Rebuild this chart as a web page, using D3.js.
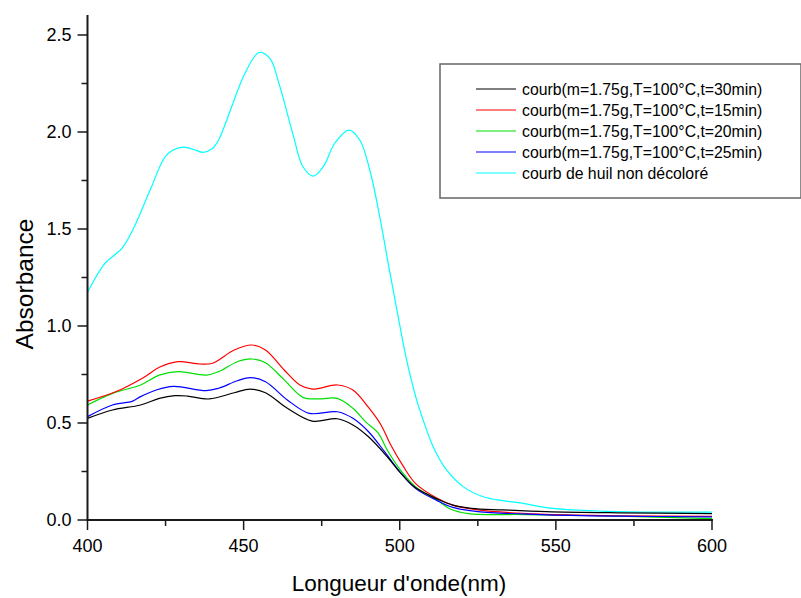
<!DOCTYPE html>
<html><head><meta charset="utf-8">
<script src="https://cdn.jsdelivr.net/npm/d3@7"></script>
<style>body{margin:0;background:#fff}svg{display:block}text{font-family:"Liberation Sans",Arial,sans-serif;fill:#000}</style>
</head><body><svg id="c" width="801" height="598"></svg>
<script>
const seriesNames = [
  "courb(m=1.75g,T=100°C,t=30min)",
  "courb(m=1.75g,T=100°C,t=15min)",
  "courb(m=1.75g,T=100°C,t=20min)",
  "courb(m=1.75g,T=100°C,t=25min)",
  "courb de huil non décoloré"
];
const seriesColors = ["#000000", "#ff0000", "#00e000", "#0000ff", "#00ffff"];
const xTicks = [400, 450, 500, 550, 600];
const yTicks = [0.0, 0.5, 1.0, 1.5, 2.0, 2.5];

// [wavelength, absorbance]
const black30 = [[400,0.524],[408,0.567],[417,0.593],[423,0.627],[428,0.641],[432,0.639],[439,0.624],[447,0.656],[452,0.675],[457,0.656],[464,0.576],[472,0.51],[480,0.522],[485,0.49],[490,0.429],[496,0.326],[500,0.247],[505,0.167],[512,0.108],[517,0.077],[523,0.06],[533,0.052],[547,0.043],[570,0.037],[600,0.033]];
const red15 = [[400,0.613],[409,0.661],[418,0.735],[423,0.787],[429,0.816],[436,0.804],[440,0.808],[447,0.876],[452.6,0.902],[457,0.876],[463,0.773],[468,0.696],[472,0.675],[480,0.696],[485,0.67],[490,0.58],[494,0.49],[497,0.39],[501,0.28],[505,0.189],[512,0.112],[517,0.077],[525,0.052],[545,0.03],[570,0.022],[600,0.019]];
const green20 = [[400,0.593],[408,0.653],[417,0.696],[423,0.747],[429,0.765],[438,0.747],[442,0.765],[448,0.816],[452.6,0.83],[457,0.811],[463,0.722],[469,0.632],[474,0.624],[480,0.627],[485,0.576],[489,0.507],[493,0.45],[496,0.361],[500,0.262],[505,0.172],[512,0.103],[516,0.058],[522,0.033],[540,0.028],[570,0.02],[600,0.007]];
const blue25 = [[400,0.533],[408,0.593],[414.5,0.613],[417,0.636],[422,0.67],[427.5,0.689],[438,0.667],[442,0.679],[448,0.718],[452.2,0.734],[457,0.713],[464,0.619],[471,0.55],[480,0.558],[485,0.524],[490,0.455],[495,0.355],[500,0.249],[505,0.163],[512,0.1],[517,0.065],[525,0.043],[545,0.028],[570,0.02],[600,0.016]];
const cyanOil = [[400,1.174],[405.6,1.323],[411,1.40],[415,1.512],[420.5,1.718],[425.3,1.881],[430,1.921],[434,1.91],[437,1.895],[440,1.915],[442,1.959],[444,2.036],[446.2,2.131],[450.4,2.302],[454.9,2.409],[458.4,2.38],[461.5,2.24],[466,1.976],[469,1.821],[472.3,1.773],[475.5,1.821],[479.2,1.942],[483.7,2.01],[487.2,1.959],[490.4,1.804],[493.6,1.563],[496.3,1.323],[499,1.091],[502,0.84],[505.4,0.619],[507.5,0.515],[510.7,0.378],[515,0.258],[520.3,0.172],[526.7,0.12],[533,0.10],[538.5,0.088],[549,0.06],[570,0.043],[600,0.041]];
const seriesData = [black30, red15, green20, blue25, cyanOil];

const svg = d3.select("#c");
const x = d3.scaleLinear().domain([400, 600]).range([87.5, 712]);
const y = d3.scaleLinear().domain([0, 2.6]).range([520, 15.6]);

const line = d3.line().x(d => x(d[0])).y(d => y(d[1])).curve(d3.curveCatmullRom.alpha(0.5));
const drawOrder = [4, 2, 1, 3, 0];
drawOrder.forEach(i => {
  svg.append("path").attr("d", line(seriesData[i])).attr("fill", "none")
    .attr("stroke", seriesColors[i]).attr("stroke-width", 1.2);
});

// axes
const axColor = "#1a1a1a";
const gx = svg.append("g").attr("transform", "translate(0,520)");
gx.append("line").attr("x1", 86.5).attr("x2", 713).attr("stroke", axColor).attr("stroke-width", 2);
gx.selectAll(".minx").data(d3.range(425, 600, 50)).enter().append("line")
  .attr("x1", d => x(d)).attr("x2", d => x(d)).attr("y1", 0).attr("y2", 6).attr("stroke", axColor).attr("stroke-width", 1.5);
gx.selectAll(".majx").data(xTicks).enter().append("line")
  .attr("x1", d => x(d)).attr("x2", d => x(d)).attr("y1", 0).attr("y2", 10).attr("stroke", axColor).attr("stroke-width", 1.5);
gx.selectAll(".lx").data(xTicks).enter().append("text")
  .attr("x", d => x(d)).attr("y", 32).attr("text-anchor", "middle").attr("font-size", 18).text(d => d3.format("d")(d));

const gy = svg.append("g").attr("transform", "translate(87.5,0)");
gy.append("line").attr("y1", 15).attr("y2", 521).attr("stroke", axColor).attr("stroke-width", 2);
gy.selectAll(".miny").data(d3.range(0.25, 2.6, 0.5)).enter().append("line")
  .attr("y1", d => y(d)).attr("y2", d => y(d)).attr("x1", 0).attr("x2", -6).attr("stroke", axColor).attr("stroke-width", 1.5);
gy.selectAll(".majy").data(yTicks).enter().append("line")
  .attr("y1", d => y(d)).attr("y2", d => y(d)).attr("x1", 0).attr("x2", -10).attr("stroke", axColor).attr("stroke-width", 1.5);
gy.selectAll(".ly").data(yTicks).enter().append("text")
  .attr("x", -16).attr("y", d => y(d)).attr("dy", "0.36em").attr("text-anchor", "end").attr("font-size", 18).text(d => d3.format(".1f")(d));

// axis titles
svg.append("text").attr("x", 399).attr("y", 591).attr("text-anchor", "middle").attr("font-size", 22.5).text("Longueur d'onde(nm)");
svg.append("text").attr("transform", "translate(33,284) rotate(-90)").attr("text-anchor", "middle").attr("font-size", 24.5).text("Absorbance");

// legend
const lg = svg.append("g");
lg.append("rect").attr("x", 440).attr("y", 64).attr("width", 361).attr("height", 134)
  .attr("fill", "#fff").attr("stroke", "#666").attr("stroke-width", 1.5);
seriesNames.forEach((n, i) => {
  const yy = 89 + i * 21;
  lg.append("line").attr("x1", 476).attr("x2", 516).attr("y1", yy).attr("y2", yy).attr("stroke", seriesColors[i]).attr("stroke-width", 1.2);
  lg.append("text").attr("x", 522).attr("y", yy).attr("dy", "0.36em").attr("font-size", 15.8).text(n);
});
</script></body></html>
